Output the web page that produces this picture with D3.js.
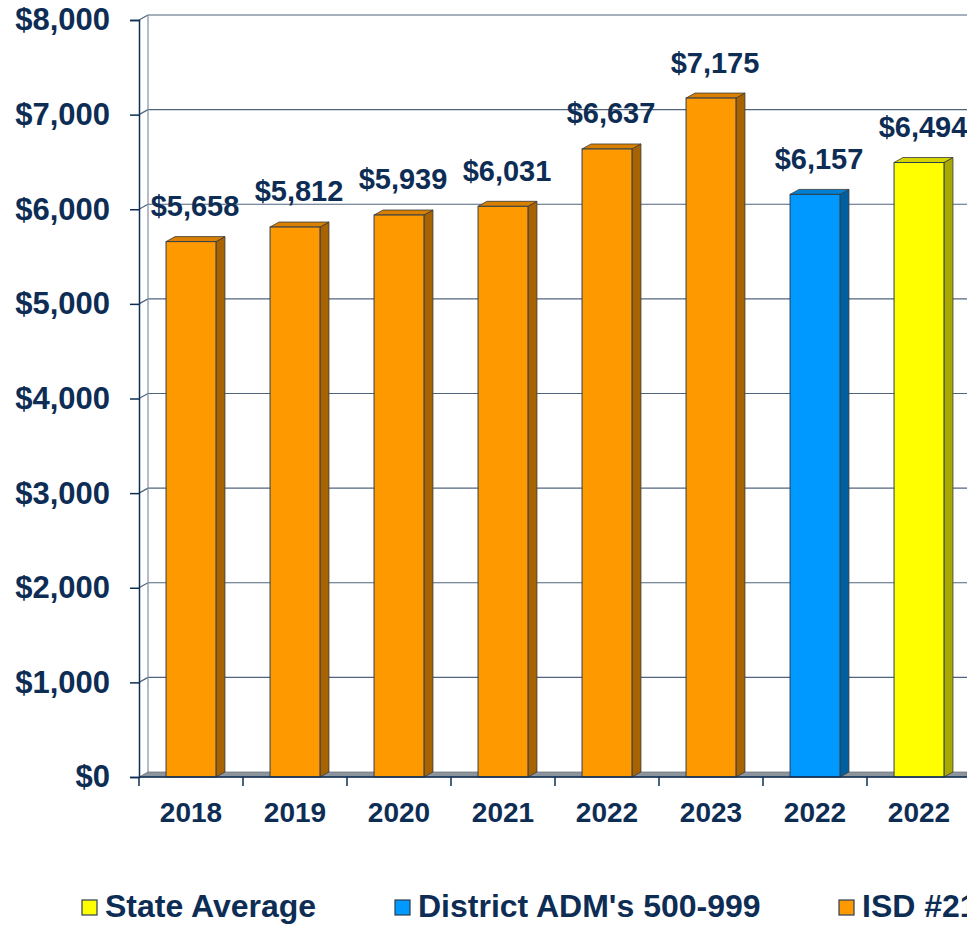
<!DOCTYPE html>
<html>
<head>
<meta charset="utf-8">
<script src="https://cdn.jsdelivr.net/npm/d3@7"></script>
<style>
  body { margin: 0; background: #fff; overflow: hidden; }
  svg { display: block; font-family: "Liberation Sans", Arial, sans-serif; font-weight: bold; }
</style>
</head>
<body>
<script>
// chart data
var categories = ["2018", "2019", "2020", "2021", "2022", "2023", "2022", "2022"];
var values = [5658, 5812, 5939, 6031, 6637, 7175, 6157, 6494];
var seriesOf = ["isd", "isd", "isd", "isd", "isd", "isd", "adm", "state"];
var yTicks = [0, 1000, 2000, 3000, 4000, 5000, 6000, 7000, 8000];
var legendKeys = ["state", "adm", "isd"];
var legendLabels = ["State Average", "District ADM's 500-999", "ISD #21"];

var width = 967, height = 926;
var ink = "#0e2d55";
var dx = 9, dy = 5; // 3d depth

var faces = {
    isd:   { front: "#ff9900", side: "#a86200", top: "#d98000" },
    adm:   { front: "#0099ff", side: "#005f9e", top: "#0080d4" },
    state: { front: "#ffff00", side: "#a8a800", top: "#d4d400" }
};

var svg = d3.select("body").append("svg")
    .attr("width", width)
    .attr("height", height);

var x = d3.scaleBand()
    .domain(d3.range(categories.length))
    .range([139, 139 + 104 * categories.length])
    .padding(0);

var y = d3.scaleLinear()
    .domain([0, 8000])
    .range([777, 20]);

var bw = x.bandwidth();
var barW = bw * 0.48, barOff = bw * 0.26;

// back wall + gridlines
var wall = svg.append("g");
wall.selectAll("line.grid")
    .data(yTicks.slice(1))
    .enter().append("line")
    .attr("class", "grid")
    .attr("x1", 139 + dx).attr("x2", width)
    .attr("y1", function (d) { return y(d) - dy; })
    .attr("y2", function (d) { return y(d) - dy; })
    .attr("stroke", "#50647e")
    .attr("stroke-width", 1.2);

wall.selectAll("line.slant")
    .data(yTicks.slice(1))
    .enter().append("line")
    .attr("class", "slant")
    .attr("x1", 139).attr("x2", 139 + dx)
    .attr("y1", function (d) { return y(d); })
    .attr("y2", function (d) { return y(d) - dy; })
    .attr("stroke", "#50647e")
    .attr("stroke-width", 1.2);

wall.append("line")
    .attr("x1", 139 + dx).attr("x2", 139 + dx)
    .attr("y1", y(8000) - dy).attr("y2", y(0) - dy)
    .attr("stroke", "#8090a4")
    .attr("stroke-width", 1.2);

// floor
wall.append("polygon")
    .attr("points", [[139, y(0)], [139 + dx, y(0) - dy], [width, y(0) - dy], [width, y(0)]].join(" "))
    .attr("fill", "#8d949c")
    .attr("stroke", "#6c7580")
    .attr("stroke-width", 0.8);

// bars
var bars = svg.append("g").selectAll("g")
    .data(values)
    .enter().append("g");

bars.append("polygon")
    .attr("points", function (d, i) {
        var x1 = x(i) + barOff + barW;
        return [[x1, y(d)], [x1 + dx, y(d) - dy], [x1 + dx, y(0) - dy], [x1, y(0)]].join(" ");
    })
    .attr("fill", function (d, i) { return faces[seriesOf[i]].side; })
    .attr("stroke", "#3a3a3a")
    .attr("stroke-width", 0.8);

bars.append("polygon")
    .attr("points", function (d, i) {
        var x0 = x(i) + barOff;
        return [[x0, y(d)], [x0 + dx, y(d) - dy], [x0 + barW + dx, y(d) - dy], [x0 + barW, y(d)]].join(" ");
    })
    .attr("fill", function (d, i) { return faces[seriesOf[i]].top; })
    .attr("stroke", "#3a3a3a")
    .attr("stroke-width", 0.8);

bars.append("rect")
    .attr("x", function (d, i) { return x(i) + barOff; })
    .attr("y", function (d) { return y(d); })
    .attr("width", barW)
    .attr("height", function (d) { return y(0) - y(d); })
    .attr("fill", function (d, i) { return faces[seriesOf[i]].front; })
    .attr("stroke", "#2e3f52")
    .attr("stroke-width", 1);

// value labels
bars.append("text")
    .attr("x", function (d, i) { return x(i) + barOff + barW / 2 + 4; })
    .attr("y", function (d) { return y(d) - 36; })
    .attr("dy", "0.36em")
    .attr("text-anchor", "middle")
    .attr("fill", ink)
    .style("font-size", "29px")
    .text(d3.format("$,"));

// y axis
var yAxis = svg.append("g")
    .attr("transform", "translate(139,0)")
    .call(d3.axisLeft(y).tickValues(yTicks).tickFormat(d3.format("$,")).tickSize(9).tickPadding(20));
yAxis.select(".domain").attr("stroke", ink).attr("stroke-width", 1.5);
yAxis.selectAll(".tick line").attr("stroke", ink).attr("stroke-width", 1.5);
yAxis.selectAll(".tick text")
    .attr("fill", ink)
    .style("font-size", "31px")
    .style("font-family", "'Liberation Sans', Arial, sans-serif")
    .style("font-weight", "bold");

// x axis
svg.append("line")
    .attr("x1", 139).attr("x2", width)
    .attr("y1", y(0)).attr("y2", y(0))
    .attr("stroke", ink).attr("stroke-width", 1.5);

svg.append("g").selectAll("line")
    .data(d3.range(categories.length + 1))
    .enter().append("line")
    .attr("x1", function (i) { return 139 + bw * i; })
    .attr("x2", function (i) { return 139 + bw * i; })
    .attr("y1", y(0)).attr("y2", y(0) + 9)
    .attr("stroke", ink).attr("stroke-width", 1.5);

var xAxis = svg.append("g")
    .attr("transform", "translate(0," + y(0) + ")")
    .call(d3.axisBottom(x).tickSize(0).tickPadding(25).tickFormat(function (i) { return categories[i]; }));
xAxis.select(".domain").remove();
xAxis.selectAll(".tick text")
    .attr("fill", ink)
    .style("font-size", "28px")
    .style("font-family", "'Liberation Sans', Arial, sans-serif")
    .style("font-weight", "bold");

// legend
var legendX = [82, 395, 839];
var legend = svg.append("g").selectAll("g")
    .data(legendKeys)
    .enter().append("g")
    .attr("transform", function (d, i) { return "translate(" + legendX[i] + ",900)"; });

legend.append("rect")
    .attr("width", 15).attr("height", 15)
    .attr("fill", function (d) { return faces[d].front; })
    .attr("stroke", "#2e3f52")
    .attr("stroke-width", 1.2);

legend.append("text")
    .attr("x", 23)
    .attr("y", 17)
    .attr("fill", ink)
    .style("font-size", "32px")
    .text(function (d, i) { return legendLabels[i]; });
</script>
</body>
</html>
